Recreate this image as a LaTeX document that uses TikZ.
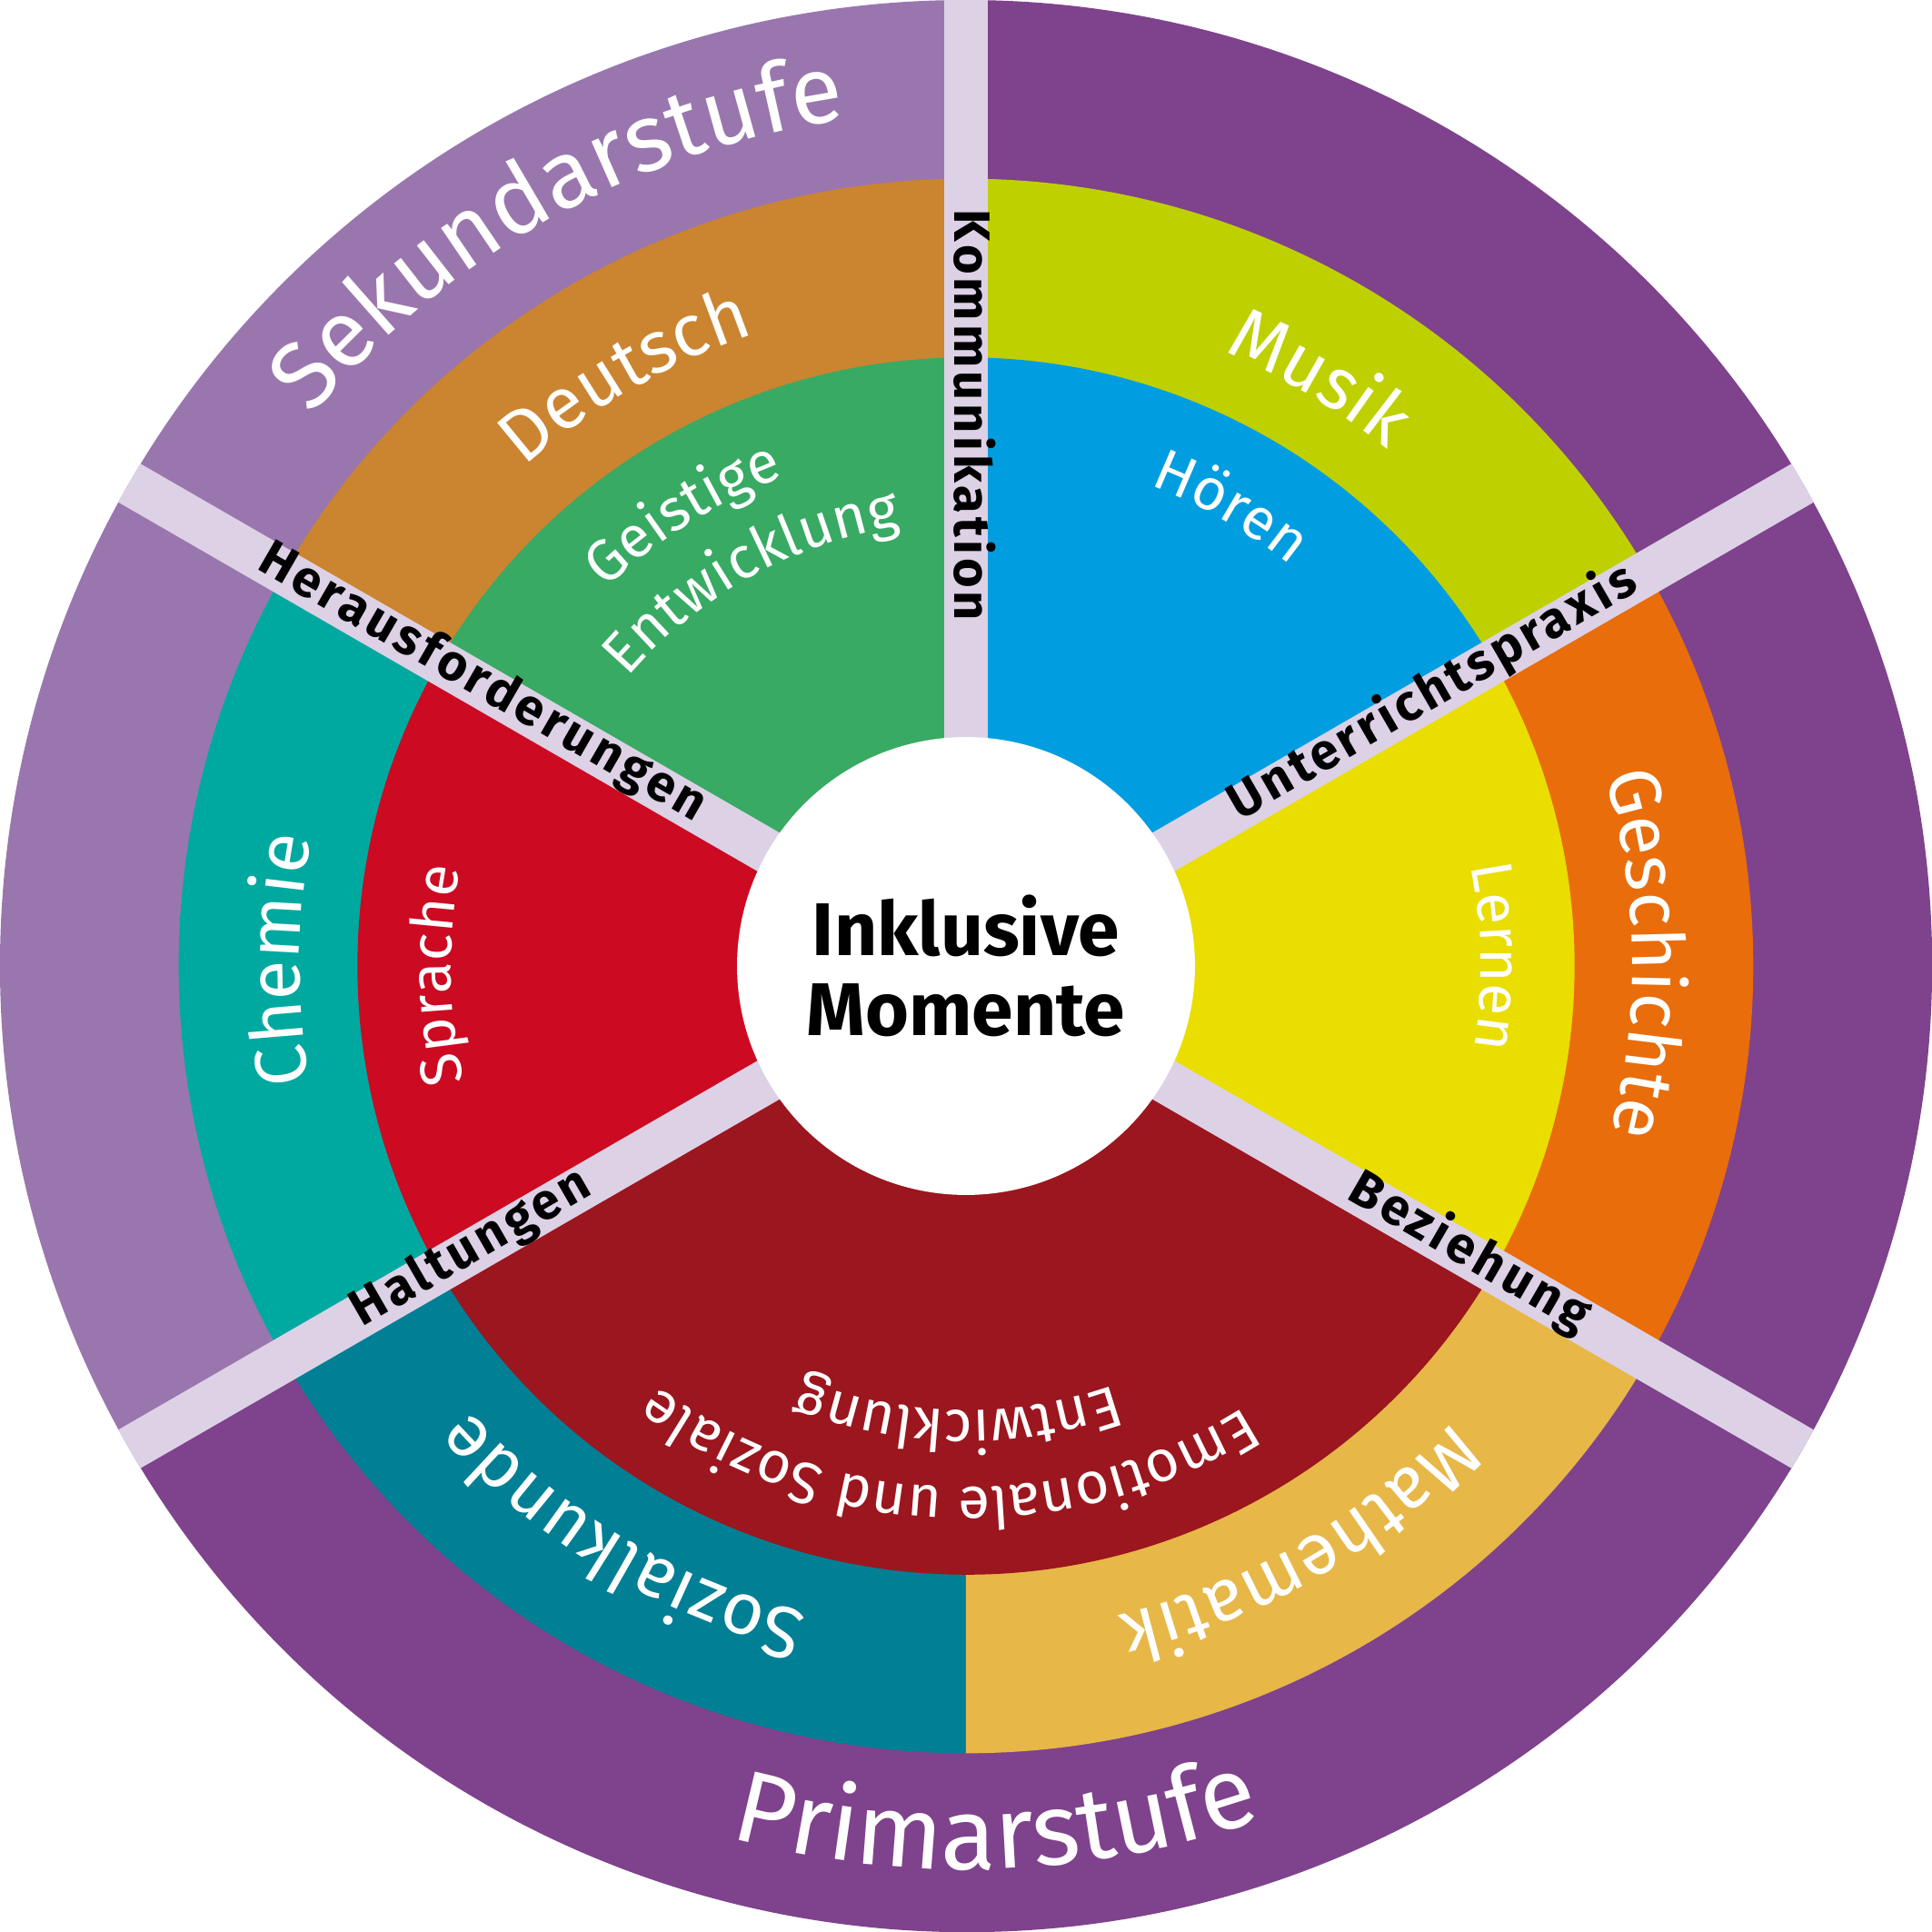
\documentclass[tikz,border=0pt]{standalone}
\usepackage{fontspec}
\setmainfont{Fira Sans}
\newfontfamily\barfont[LetterSpace=7]{Fira Sans}
\usetikzlibrary{decorations.text}

\definecolor{sekundar}{HTML}{9A76AE}
\definecolor{primar}{HTML}{7F428D}
\definecolor{balken}{HTML}{DDD1E6}
\definecolor{deutsch}{HTML}{CB8430}
\definecolor{musik}{HTML}{BFD000}
\definecolor{geschichte}{HTML}{E96D0B}
\definecolor{mathematik}{HTML}{E7B748}
\definecolor{sozialkunde}{HTML}{007F95}
\definecolor{chemie}{HTML}{00A99F}
\definecolor{geistig}{HTML}{38AA63}
\definecolor{hoeren}{HTML}{009EE0}
\definecolor{lernen}{HTML}{EADD00}
\definecolor{emotional}{HTML}{9B161E}
\definecolor{sprache}{HTML}{CC0A22}

\newcommand{\sekfont}{\fontsize{28}{28}\selectfont}
\newcommand{\primfont}{\fontsize{30}{30}\selectfont}
\newcommand{\fachfont}{\fontsize{21.5}{21.5}\selectfont}
\newcommand{\foerderfont}{\fontsize{17.2}{17.2}\selectfont}

\begin{document}
\begin{tikzpicture}[
  bar/.style={draw=balken, line width=4.6mm},
  barlabel/.style={font=\barfont\bfseries\fontsize{15}{15}\selectfont, inner sep=0pt, text height=0.66em, text depth=0pt},
  cw/.style={decorate, decoration={text along path, text align=center, text color=white, text={#1}}},
]
  \useasboundingbox (-10,-10) rectangle (10,10);

  % outer ring: Sekundarstufe / Primarstufe
  \foreach \a/\b/\c in {90/210/sekundar, 210/450/primar}
    \fill[\c] (0,0) -- (\a:10) arc[start angle=\a, end angle=\b, radius=10] -- cycle;

  % subjects
  \foreach \a/\b/\c in {30/90/musik, 90/150/deutsch, 150/210/chemie, 210/270/sozialkunde, 270/330/mathematik, 330/390/geschichte}
    \fill[\c] (0,0) -- (\a:8.15) arc[start angle=\a, end angle=\b, radius=8.15] -- cycle;

  % inner ring
  \foreach \a/\b/\c in {30/90/hoeren, 90/150/geistig, 150/210/sprache, 210/330/emotional, 330/390/lernen}
    \fill[\c] (0,0) -- (\a:6.3) arc[start angle=\a, end angle=\b, radius=6.3] -- cycle;

  % bars
  \begin{scope}
    \clip (0,0) circle (10);
    \foreach \a in {90,30,-30,210,150}
      \draw[bar] (0,0) -- (\a:10.5);
  \end{scope}

  \node[circle, fill=white, minimum size=4.74cm, inner sep=0pt, align=center,
        font=\bfseries\fontsize{22}{23.5}\selectfont] (mitte) at (0,0) {Inklusive\\Momente};

  \node[barlabel, rotate=-90] (kommunikation) at (90:5.7) {Kommunikation};
  \node[barlabel, rotate=30] (unterricht) at (30:5.6) {Unterrichtspraxis};
  \node[barlabel, rotate=-30] (beziehung) at (-30:6.0) {Beziehung};
  \node[barlabel, rotate=30] (haltungen) at (210:5.9) {Haltungen};
  \node[barlabel, rotate=-30] (herausforderungen) at (150:5.8) {Herausforderungen};

  % curved labels
  \path[cw={|\sekfont|Sekundarstufe}] (169:8.85) arc[start angle=169, end angle=69, radius=8.85];
  \path[cw={|\primfont|Primarstufe}] (222:9.35) arc[start angle=222, end angle=322, radius=9.35];

  \path[cw={|\fachfont|Deutsch}] (160:6.9) arc[start angle=160, end angle=80, radius=6.9];
  \path[cw={|\fachfont|Musik}] (99:6.9) arc[start angle=99, end angle=19, radius=6.9];
  \path[cw={|\fachfont|Geschichte}] (41:6.9) arc[start angle=41, end angle=-39, radius=6.9];
  \path[cw={|\fachfont|Mathematik}] (-20:6.9) arc[start angle=-20, end angle=-100, radius=6.9];
  \path[cw={|\fachfont|Sozialkunde}] (-81:6.9) arc[start angle=-81, end angle=-161, radius=6.9];
  \path[cw={|\fachfont|Chemie}] (219.5:6.9) arc[start angle=219.5, end angle=139.5, radius=6.9];

  \path[cw={|\foerderfont|Geistige}] (162:5.4) arc[start angle=162, end angle=82, radius=5.4];
  \path[cw={|\foerderfont|Entwicklung}] (159:4.6) arc[start angle=159, end angle=79, radius=4.6];
  \path[cw={|\foerderfont|Hören}] (100:5.33) arc[start angle=100, end angle=20, radius=5.33];
  \path[cw={|\foerderfont|Lernen}] (41:5.33) arc[start angle=41, end angle=-39, radius=5.33];
  \path[cw={|\foerderfont|Sprache}] (221:5.33) arc[start angle=221, end angle=141, radius=5.33];
  \path[cw={|\foerderfont|Emotionale und Soziale}] (-22:5.4) arc[start angle=-22, end angle=-162, radius=5.4];
  \path[cw={|\foerderfont|Entwicklung}] (-31:4.6) arc[start angle=-31, end angle=-151, radius=4.6];
\end{tikzpicture}
\end{document}
